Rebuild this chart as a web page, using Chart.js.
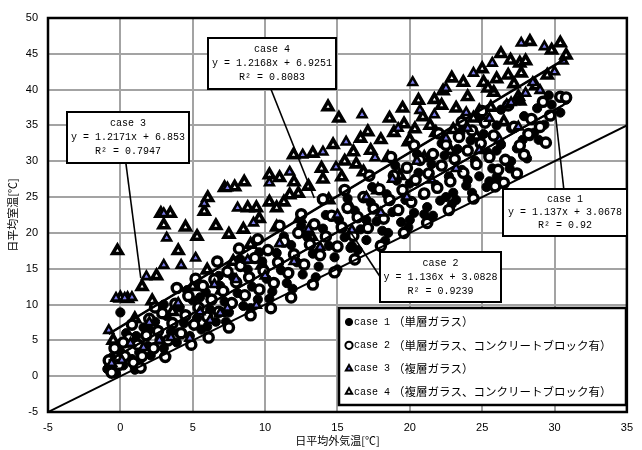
<!DOCTYPE html>
<html>
<head>
<meta charset="utf-8">
<script src="https://cdn.jsdelivr.net/npm/chart.js@4.4.0/dist/chart.umd.min.js"></script>
<style>
  html, body { margin: 0; padding: 0; background: #fff; }
  #wrap { width: 642px; height: 450px; position: relative; }
</style>
</head>
<body>
<div id="wrap"><canvas id="c" width="642" height="450"></canvas></div>
<script>
// Daily mean outdoor temperature (x) vs daily mean room temperature (y), [°C]
const case1 = [
  [-0.9,1.0],[-0.6,2.6],[-0.3,0.4],[0.0,3.4],[0.0,8.9],[0.2,1.5],[0.5,4.6],[0.8,2.4],[1.1,5.6],[1.3,3.3],
  [1.6,6.8],[1.9,4.2],[2.1,2.9],[2.4,7.6],[2.7,5.1],[3.0,3.9],[3.2,8.4],[3.5,6.2],[3.9,4.7],[4.1,9.6],
  [4.4,7.4],[4.8,5.6],[5.0,10.6],[5.3,8.1],[5.6,6.5],[5.9,11.7],[6.2,9.3],[6.6,7.6],[6.9,12.6],[7.2,10.4],
  [7.5,8.9],[7.8,13.8],[8.1,11.6],[8.5,9.8],[8.8,14.9],[9.1,12.5],[9.5,10.7],[9.8,16.0],[10.1,13.6],[10.5,11.8],
  [10.8,17.2],[11.1,14.8],[11.5,13.0],[11.8,18.3],[12.2,15.9],[12.6,14.2],[12.9,19.5],[13.3,17.1],[13.7,15.3],[14.0,20.6],
  [14.4,18.2],[14.8,16.6],[15.1,21.8],[15.5,19.4],[15.9,17.9],[16.2,23.1],[16.6,20.5],[17.0,19.0],[17.3,24.2],[17.7,21.6],
  [18.1,20.3],[18.4,25.4],[18.8,22.9],[19.1,27.3],[19.4,21.5],[19.7,24.6],[20.0,26.9],[20.3,22.8],[20.6,28.4],[20.9,25.3],
  [21.2,23.6],[21.5,29.6],[21.8,26.7],[22.1,24.5],[22.4,30.8],[22.7,27.9],[23.0,25.6],[23.3,31.7],[23.6,28.8],[23.9,26.6],
  [24.2,32.9],[24.5,30.1],[24.8,27.9],[25.1,33.8],[25.4,31.2],[25.7,29.0],[26.0,35.0],[26.3,32.3],[26.6,30.1],[27.0,34.6],
  [27.4,31.8],[27.9,36.3],[28.3,33.5],[28.8,37.4],[29.3,35.1],[29.8,37.9],[30.4,36.8],[30.8,38.6],
  [0.4,6.0],[1.0,0.9],[2.0,6.5],[3.0,10.0],[4.0,6.1],[4.6,12.0],[5.5,11.0],[6.0,6.9],[6.8,14.0],[7.3,7.6],
  [8.3,16.3],[9.0,9.5],[9.6,17.3],[10.3,10.8],[11.3,19.5],[11.9,12.2],[12.5,21.0],[13.5,13.8],[14.2,22.5],[15.0,14.9],
  [15.7,24.8],[16.4,17.6],[17.4,26.4],[18.3,18.9],[19.0,29.4],[19.9,20.8],[20.5,31.0],[21.6,22.4],[22.2,32.5],[22.9,24.0],
  [23.5,34.0],[24.3,25.6],[24.9,36.0],[25.5,27.2],[26.3,37.2],[26.9,29.0],[27.6,38.5],[28.1,30.4],[28.9,33.0],[29.6,39.2],
  [21.0,22.6],[23.2,24.6],[24.0,27.4],[25.3,26.4],[26.0,27.8],[27.0,30.0],[22.5,25.0],[20.0,21.8],[18.5,20.0],[17.0,21.8],
  [16.0,18.2],[26.0,31.5],[27.8,33.0],[28.6,34.0]
];
const case2 = [
  [-0.8,2.2],[-0.4,3.9],[-0.1,1.6],[0.3,2.8],[0.6,5.3],[0.9,1.9],[1.2,4.4],[1.5,2.8],[1.8,5.7],[2.0,8.0],
  [2.3,3.9],[2.6,6.3],[2.9,8.8],[3.3,5.0],[3.6,7.4],[3.8,10.1],[4.2,6.0],[4.5,8.5],[4.7,11.2],[5.1,7.2],
  [5.4,9.6],[5.7,12.6],[6.0,8.3],[6.3,10.7],[6.5,13.5],[6.8,9.0],[7.1,11.9],[7.4,14.6],[7.7,10.2],[8.0,13.1],
  [8.3,15.4],[8.6,11.3],[8.9,13.8],[9.3,16.5],[9.6,12.1],[9.9,14.7],[10.2,17.6],[10.6,13.0],[10.9,15.9],[11.3,18.8],
  [11.6,14.4],[12.0,17.0],[12.3,20.0],[12.7,15.6],[13.1,18.4],[13.4,21.2],[13.8,16.9],[14.2,19.5],[14.6,22.4],[15.0,18.1],
  [15.3,20.8],[15.7,23.5],[16.1,19.6],[16.4,22.2],[16.8,25.0],[17.1,20.7],[17.5,23.4],[17.9,26.1],[18.2,22.0],[18.6,24.6],
  [18.9,28.0],[19.2,23.2],[19.5,26.0],[19.8,29.1],[20.1,24.3],[20.4,27.4],[20.7,30.2],[21.0,25.5],[21.3,28.3],[21.6,31.0],
  [21.9,26.3],[22.2,29.4],[22.5,32.3],[22.8,27.2],[23.1,30.3],[23.4,33.4],[23.7,28.4],[24.0,31.5],[24.3,34.3],[24.6,29.6],
  [24.9,32.5],[25.2,35.4],[25.5,30.6],[25.8,33.6],[26.1,28.8],[26.5,27.0],[26.6,30.2],[27.2,34.8],[27.6,32.2],[27.9,30.9],
  [28.4,35.9],[29.0,34.8],[29.2,38.3],[29.7,36.4],[30.4,39.0],[30.8,38.9],
  [-0.6,0.5],[0.2,4.7],[0.8,7.2],[1.4,1.2],[2.4,9.6],[3.1,2.7],[3.9,12.3],[4.9,4.4],[5.2,13.6],[6.1,5.4],
  [6.7,16.0],[7.5,6.8],[8.2,17.8],[9.0,8.5],[9.5,19.1],[10.4,9.5],[11.0,21.0],[11.8,11.0],[12.5,22.6],[13.3,12.8],
  [14.0,24.7],[14.8,14.5],[15.5,26.0],[16.2,16.3],[17.2,28.0],[18.0,18.2],[18.7,30.6],[19.6,20.0],[20.3,32.2],[21.2,21.4],
  [22.0,33.9],[22.7,23.2],[23.6,35.5],[24.4,24.8],[25.0,37.0],[25.9,26.5],[26.8,37.8],[27.4,28.3],[28.2,33.8],[29.4,32.6]
];
const case3 = [
  [-0.6,1.8],[0.1,2.2],[0.7,4.6],[1.6,4.0],[2.7,5.0],[3.5,5.4],[4.8,5.3],[6.2,7.8],[6.9,8.8],[7.4,9.5],
  [9.4,9.9],[-0.3,10.9],[0.3,10.9],[0.8,11.0],[-0.8,6.4],[1.8,13.9],[3.0,15.5],[4.2,15.5],[5.2,16.5],[3.0,22.7],
  [3.2,19.3],[5.8,24.1],[7.4,26.3],[8.1,23.5],[9.2,21.4],[10.3,27.0],[11.7,28.5],[12.6,30.9],[14.0,31.3],[14.9,29.2],
  [15.6,32.7],[16.7,36.5],[17.6,30.5],[19.2,34.6],[20.2,41.0],[20.7,37.1],[21.7,36.5],[22.5,40.2],[23.9,36.8],[24.4,42.3],
  [25.7,43.7],[26.7,37.9],[27.7,46.5],[29.0,39.9],[29.3,46.0],[28.0,39.5],[2.0,7.5],[4.0,10.2],[5.5,9.0],[6.5,12.8],
  [8.0,13.5],[8.8,16.2],[10.0,14.0],[11.0,18.5],[12.0,16.0],[13.0,20.5],[13.8,18.0],[15.0,22.5],[16.0,20.4],[17.0,25.0],
  [18.0,22.8],[18.8,27.5],[19.8,25.0],[20.5,30.0],[21.5,27.4],[22.5,33.2],[23.2,29.0],[24.0,34.6],[24.8,31.5],[25.5,36.0],
  [26.2,33.0],[27.0,38.2],[27.5,34.8],[28.5,41.0],[30.0,42.5],[30.6,44.0]
];
const case4 = [
  [-0.2,17.5],[0.0,10.9],[0.5,10.8],[2.8,22.7],[3.45,22.7],[3.0,21.1],[4.5,20.8],[5.8,23.0],[6.04,24.9],[7.2,26.3],
  [7.9,26.4],[8.56,27.1],[8.8,23.5],[9.4,23.5],[10.3,24.3],[10.3,28.1],[11.0,27.7],[11.3,24.3],[11.7,25.3],[12.0,27.1],
  [11.97,30.9],[13.3,31.1],[13.9,29.0],[14.35,37.6],[14.7,32.3],[15.1,36.0],[16.1,31.3],[16.6,33.2],[17.1,34.1],[18.6,36.0],
  [19.5,37.4],[19.9,32.7],[20.35,34.5],[20.9,36.2],[21.7,38.6],[22.2,37.8],[22.9,41.6],[23.2,37.4],[23.7,41.0],[24.8,37.0],
  [25.0,42.9],[25.1,41.0],[25.8,39.6],[26.3,45.0],[26.96,44.1],[27.5,39.0],[27.6,43.7],[27.7,42.3],[27.6,38.4],[28.3,46.7],
  [30.4,46.5],[30.8,44.8],[-0.5,5.0],[1.0,8.0],[2.2,10.5],[3.6,9.0],[5.0,12.5],[6.0,14.8],[7.0,12.0],[7.8,16.0],
  [9.0,18.4],[9.8,15.5],[10.8,20.8],[12.4,22.0],[13.2,19.5],[14.4,24.6],[15.3,27.8],[15.9,23.5],[16.8,28.5],[17.8,26.0],
  [18.5,30.5],[19.3,28.0],[20.0,33.0],[21.0,30.5],[21.8,34.0],[22.8,31.5],[23.8,35.0],[24.6,33.5],[25.6,37.5],[26.5,35.5],
  [28.7,40.5],[29.5,42.0],
  [13.0,26.5],[14.0,27.5],[15.5,30.0],[16.3,29.6],[17.3,31.5],[18.0,33.0],[18.9,34.0],[19.6,35.2],[20.6,38.5],[21.4,35.0],
  [22.3,39.8],[23.0,34.4],[24.0,39.0],[24.4,36.0],[25.4,40.2],[26.0,41.5],[26.8,42.0],[27.2,40.8],[28.0,44.0],[29.8,45.5],
  [1.5,12.5],[2.5,14.0],[4.0,17.5],[5.3,19.5],[6.6,21.0],[7.5,19.8],[8.5,20.5],[9.6,22.0],[10.8,23.5],[12.3,25.5]
];

// Least-squares fits as printed on the chart
const caseNames  = ['case 1', 'case 2', 'case 3', 'case 4'];
const slopes     = ['1.137', '1.136', '1.2171', '1.2168'];
const intercepts = ['3.0678', '3.0828', '6.853', '6.9251'];
const rSquared   = ['0.92', '0.9239', '0.7947', '0.8083'];
const fitRange   = [[-0.8, 30.8], [-0.8, 30.6], [-0.8, 30.8], [-0.8, 30.9]];
const legendText = ['（単層ガラス）', '（単層ガラス、コンクリートブロック有）', '（複層ガラス）', '（複層ガラス、コンクリートブロック有）'];
const xTitle = '日平均外気温[℃]';
const yTitle = '日平均室温[℃]';
const identityLine = [[-5, -5], [35, 35]];

function fitLine(i) {
  const a = parseFloat(slopes[i]), b = parseFloat(intercepts[i]);
  return fitRange[i].map(x => ({ x: x, y: a * x + b }));
}
const pts = arr => arr.map(p => ({ x: p[0], y: p[1] }));

// Callout boxes: top-left anchor in data units, size in px, leader line in data units
const callouts = [
  { i: 0, at: [26.41, 26.13], w: 124, h: 47, from: [30.64, 26.13], to: [30.03, 37.16] },
  { i: 1, at: [17.96, 17.33], w: 121, h: 50, from: [17.96, 13.84], to: [15.58, 21.1] },
  { i: 2, at: [-3.71, 36.88], w: 122, h: 51, from: [0.38, 29.76], to: [1.41, 13.7] },
  { i: 3, at: [6.04, 47.2],  w: 128, h: 51, from: [10.4, 40.09], to: [13.4, 24.87] }
];
const legendAt = [15.1, 9.52];

const styles = [
  { pointStyle: 'circle',   radius: 4.6, bg: '#000000', border: '#000000', bw: 1 },
  { pointStyle: 'circle',   radius: 4.6, bg: '#ffffff', border: '#000000', bw: 3.4 },
  { pointStyle: 'triangle', radius: 5,   bg: '#7b7bea', border: '#000000', bw: 2.6 },
  { pointStyle: 'triangle', radius: 5.5, bg: '#ffffff', border: '#000000', bw: 3.6 }
];

function drawMarker(ctx, k, x, y, r) {
  const s = styles[k];
  Chart.helpers.drawPoint(ctx, {
    pointStyle: s.pointStyle, radius: r, rotation: 0, borderWidth: s.bw
  }, x, y);
}

const overlay = {
  id: 'overlay',
  afterDatasetsDraw(chart) {
    const ctx = chart.ctx, xs = chart.scales.x, ys = chart.scales.y, a = chart.chartArea;
    const px = v => xs.getPixelForValue(v), py = v => ys.getPixelForValue(v);
    ctx.save();
    // plot frame
    ctx.strokeStyle = '#000';
    ctx.lineWidth = 2.5;
    ctx.strokeRect(a.left, a.top, a.right - a.left, a.bottom - a.top);

    // leader lines
    ctx.lineWidth = 1.6;
    callouts.forEach(c => {
      ctx.beginPath();
      ctx.moveTo(px(c.from[0]), py(c.from[1]));
      ctx.lineTo(px(c.to[0]), py(c.to[1]));
      ctx.stroke();
    });

    // callout boxes
    callouts.forEach(c => {
      const x0 = Math.round(px(c.at[0])), y0 = Math.round(py(c.at[1]));
      ctx.fillStyle = '#fff';
      ctx.fillRect(x0, y0, c.w, c.h);
      ctx.lineWidth = 2;
      ctx.strokeStyle = '#000';
      ctx.strokeRect(x0, y0, c.w, c.h);
      ctx.fillStyle = '#000';
      ctx.font = '10px "Liberation Mono", "DejaVu Sans Mono", monospace';
      ctx.textAlign = 'center';
      ctx.textBaseline = 'middle';
      const cx = x0 + c.w / 2;
      const step = c.h / 3.4;
      ctx.fillText(caseNames[c.i], cx, y0 + step * 0.75);
      ctx.fillText('y = ' + slopes[c.i] + 'x + ' + intercepts[c.i], cx, y0 + step * 1.7);
      ctx.fillText('R² = ' + rSquared[c.i], cx, y0 + step * 2.65);
    });

    // legend
    const lx = Math.round(px(legendAt[0])), ly = Math.round(py(legendAt[1]));
    const lw = 287, lh = 97;
    ctx.fillStyle = '#fff';
    ctx.fillRect(lx, ly, lw, lh);
    ctx.lineWidth = 2.5;
    ctx.strokeStyle = '#000';
    ctx.strokeRect(lx, ly, lw, lh);
    for (let k = 0; k < 4; k++) {
      const ry = ly + 14 + k * 23.3;
      const s = styles[k];
      ctx.fillStyle = s.bg;
      ctx.strokeStyle = s.border;
      ctx.lineWidth = Math.min(s.bw, 2);
      drawMarker(ctx, k, lx + 10, ry, 3.6);
      ctx.fillStyle = '#000';
      ctx.textAlign = 'left';
      ctx.textBaseline = 'middle';
      ctx.font = '10px "Liberation Mono", "DejaVu Sans Mono", monospace';
      ctx.fillText(caseNames[k], lx + 15, ry);
      ctx.font = '11.5px "Noto Sans CJK JP", sans-serif';
      ctx.fillText(legendText[k], lx + 54, ry);
    }

    // axis titles
    ctx.fillStyle = '#000';
    ctx.font = '11px "Noto Sans CJK JP", sans-serif';
    ctx.textAlign = 'center';
    ctx.textBaseline = 'middle';
    ctx.fillText(xTitle, (a.left + a.right) / 2, 441);
    ctx.save();
    ctx.translate(13, (a.top + a.bottom) / 2);
    ctx.rotate(-Math.PI / 2);
    ctx.fillText(yTitle, 0, 0);
    ctx.restore();
    ctx.restore();
  }
};

function scatterSet(arr, k, order) {
  const s = styles[k];
  return {
    label: caseNames[k], data: pts(arr), order: order,
    pointStyle: s.pointStyle, pointRadius: s.radius,
    backgroundColor: s.bg, borderColor: s.border, borderWidth: s.bw,
    showLine: false
  };
}
function lineSet(data) {
  return {
    data: data, order: 0, showLine: true, pointRadius: 0,
    borderColor: '#000', borderWidth: 2, fill: false
  };
}

new Chart(document.getElementById('c'), {
  type: 'scatter',
  data: {
    datasets: [
      scatterSet(case4, 3, 4),
      scatterSet(case1, 0, 3),
      scatterSet(case2, 1, 2),
      scatterSet(case3, 2, 1),
      lineSet(fitLine(0)), lineSet(fitLine(1)), lineSet(fitLine(2)), lineSet(fitLine(3)),
      lineSet(identityLine.map(p => ({ x: p[0], y: p[1] })))
    ]
  },
  options: {
    responsive: false,
    animation: false,
    devicePixelRatio: 1,
    layout: { padding: { top: 18, right: 7, left: 0, bottom: 0 } },
    plugins: { legend: { display: false }, tooltip: { enabled: false } },
    scales: {
      x: {
        type: 'linear', min: -5, max: 35,
        ticks: { stepSize: 5, color: '#000', font: { family: '"Liberation Sans", Arial, sans-serif', size: 11 }, padding: 9, maxRotation: 0 },
        grid: { color: '#a3a3a3', lineWidth: 2, drawTicks: false },
        border: { display: false },
        afterFit(s) { s.height = 38; }
      },
      y: {
        type: 'linear', min: -5, max: 50,
        ticks: { stepSize: 5, color: '#000', font: { family: '"Liberation Sans", Arial, sans-serif', size: 11 }, padding: 10 },
        grid: { color: '#a3a3a3', lineWidth: 2, drawTicks: false },
        border: { display: false },
        afterFit(s) { s.width = 48; }
      }
    }
  },
  plugins: [overlay]
});
</script>
</body>
</html>
